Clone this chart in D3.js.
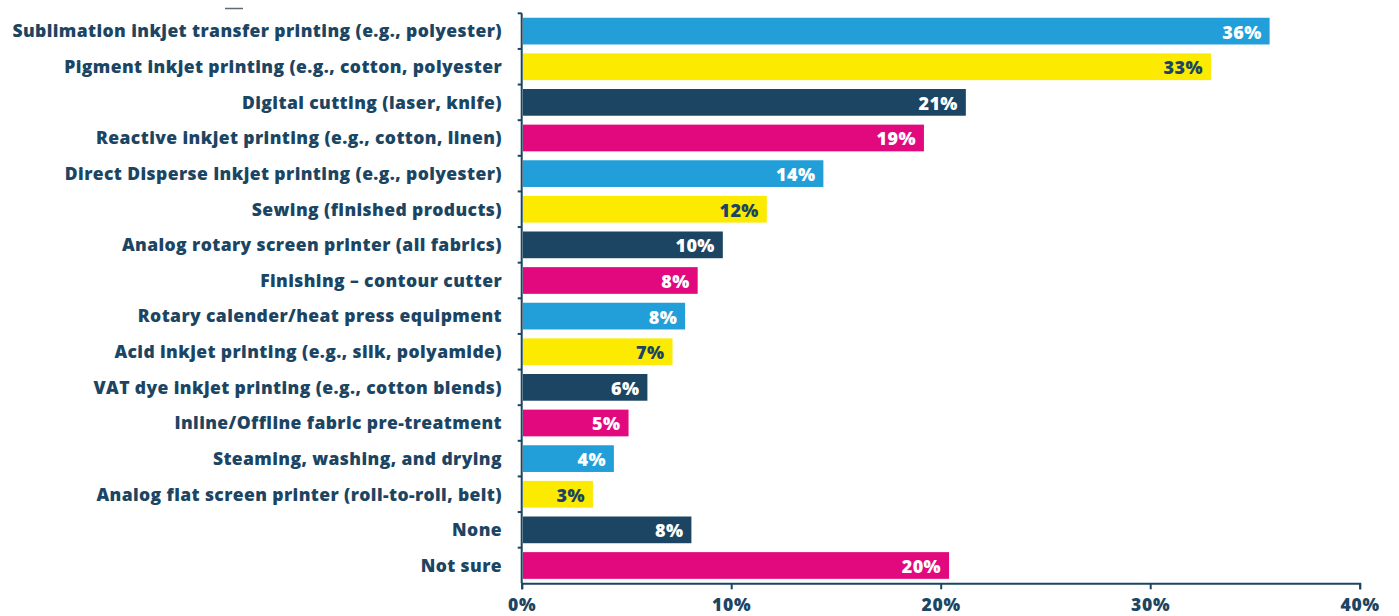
<!DOCTYPE html>
<html>
<head>
<meta charset="utf-8">
<script src="https://cdn.jsdelivr.net/npm/d3@7"></script>
<style>
  html, body { margin: 0; padding: 0; background: #ffffff; }
  svg { display: block; }
  text { font-family: "Open Sans", Lato, sans-serif; font-weight: 800; }
</style>
</head>
<body>
<svg id="chart" width="1399" height="616"></svg>
<script>
// Share of respondents by equipment / process
const categories = [
  "Sublimation inkjet transfer printing (e.g., polyester)",
  "Pigment inkjet printing (e.g., cotton, polyester",
  "Digital cutting (laser, knife)",
  "Reactive inkjet printing (e.g., cotton, linen)",
  "Direct Disperse Inkjet printing (e.g., polyester)",
  "Sewing (finished products)",
  "Analog rotary screen printer (all fabrics)",
  "Finishing \u2013 contour cutter",
  "Rotary calender/heat press equipment",
  "Acid inkjet printing (e.g., silk, polyamide)",
  "VAT dye inkjet printing (e.g., cotton blends)",
  "Inline/Offline fabric pre-treatment",
  "Steaming, washing, and drying",
  "Analog flat screen printer (roll-to-roll, belt)",
  "None",
  "Not sure"
];
const values = [35.7, 32.9, 21.2, 19.2, 14.4, 11.7, 9.6, 8.4, 7.8, 7.2, 6.0, 5.1, 4.4, 3.4, 8.1, 20.4];
const xTicks = [0, 10, 20, 30, 40];
const palette = ["#229fd9", "#fcea00", "#1b4562", "#e2097f"];

const navy = "#1b4562";
const svg = d3.select("#chart");

const plotLeft = 521.7, plotRight = 1359.7, plotTop = 13.3, plotBottom = 583.3;

const x = d3.scaleLinear().domain([0, 40]).range([plotLeft, plotRight]);
const y = d3.scaleBand().domain(categories).range([plotTop, plotBottom])
  .paddingInner(0.25).paddingOuter(0.125);

const colorOf = i => palette[i % palette.length];
const labelColorOf = i => (i % palette.length === 1 ? navy : "#ffffff");

// bars
svg.append("g").selectAll("rect")
  .data(categories)
  .join("rect")
  .attr("x", x(0) + 1.3)
  .attr("y", d => y(d))
  .attr("width", (d, i) => x(values[i]) - x(0) - 1.3)
  .attr("height", y.bandwidth())
  .attr("fill", (d, i) => colorOf(i));

// value labels inside bar ends
svg.append("g").selectAll("text")
  .data(categories)
  .join("text")
  .attr("x", (d, i) => x(values[i]) - 8)
  .attr("y", d => y(d) + y.bandwidth() / 2 + 1)
  .attr("dy", "0.36em")
  .attr("text-anchor", "end")
  .attr("font-size", 18)
  .attr("letter-spacing", 0.4)
  .attr("fill", (d, i) => labelColorOf(i))
  .text((d, i) => Math.round(values[i]) + "%");

// category labels
svg.append("g").selectAll("text")
  .data(categories)
  .join("text")
  .attr("x", 502)
  .attr("y", d => y(d) + y.bandwidth() / 2)
  .attr("dy", "0.36em")
  .attr("text-anchor", "end")
  .attr("font-size", 17.5)
  .attr("letter-spacing", 0.4)
  .attr("fill", navy)
  .text(d => d);

// vertical axis with ticks at band boundaries
const yAxis = svg.append("g");
yAxis.append("line")
  .attr("x1", plotLeft).attr("x2", plotLeft)
  .attr("y1", plotTop).attr("y2", plotBottom)
  .attr("stroke", navy).attr("stroke-width", 2);
const boundaries = categories.map(d => y(d) + y.bandwidth() / 2 - y.step() / 2);
yAxis.selectAll("line.tick")
  .data(boundaries)
  .join("line")
  .attr("class", "tick")
  .attr("x1", plotLeft - 4).attr("x2", plotLeft)
  .attr("y1", d => d).attr("y2", d => d)
  .attr("stroke", navy).attr("stroke-width", 2);

// horizontal axis
const xAxis = svg.append("g")
  .attr("transform", `translate(0,${plotBottom})`)
  .call(d3.axisBottom(x).tickValues(xTicks).tickSize(6).tickSizeOuter(6).tickFormat(d => d + "%"));
xAxis.select(".domain").attr("stroke", navy).attr("stroke-width", 2);
xAxis.selectAll(".tick line").attr("stroke", navy).attr("stroke-width", 2);
xAxis.selectAll(".tick text")
  .attr("fill", navy)
  .attr("font-size", 17.5)
  .attr("letter-spacing", 0.8)
  .attr("font-family", "'Open Sans', Lato, sans-serif")
  .attr("font-weight", 800)
  .attr("y", 27.5)
  .attr("dy", null);

// small rule near the top edge
svg.append("line")
  .attr("x1", 225).attr("x2", 243).attr("y1", 8.5).attr("y2", 8.5)
  .attr("stroke", "#5a6b76").attr("stroke-width", 1.5);
</script>
</body>
</html>
